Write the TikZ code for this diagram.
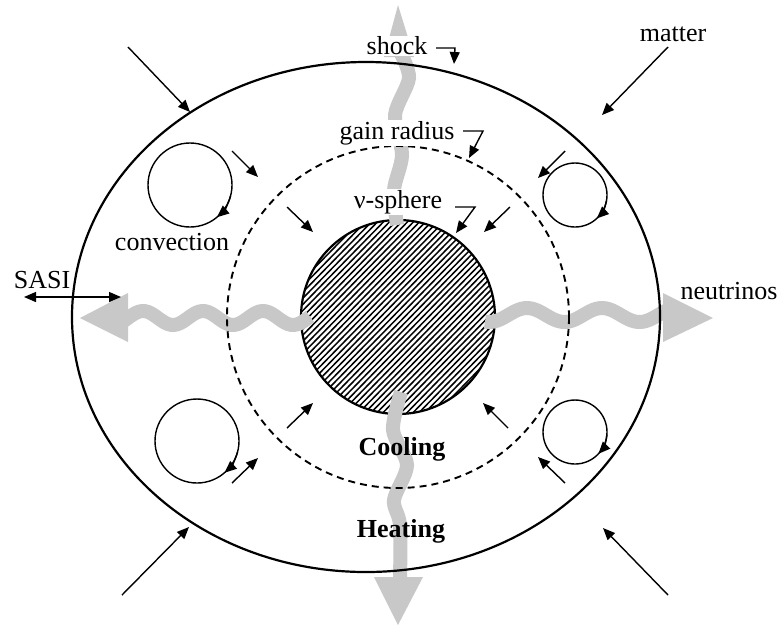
\documentclass[tikz,border=0pt]{standalone}
\usepackage{fontspec}
\setmainfont{Liberation Serif}
\usetikzlibrary{arrows.meta}
\definecolor{wavegray}{RGB}{200,200,200}
\begin{document}
\begin{tikzpicture}[x=1pt,y=-1pt,
  thinarrow/.style={line width=1.4pt,-{Triangle[length=12pt,width=10pt]}},
  wave/.style={draw=wavegray,line width=14pt},
  wavehead/.style={fill=wavegray,draw=none},
  lbl/.style={font=\fontsize{26}{30}\selectfont,inner sep=1pt},
  blbl/.style={font=\fontsize{26}{30}\selectfont\bfseries,inner sep=1pt},
  convcircle/.style={line width=1.4pt},
  convtip/.style={line width=1.4pt,-{Triangle[length=12pt,width=10pt]}}
]
\useasboundingbox (0,0) rectangle (783,625);

% hatched proto-neutron star
\begin{scope}
  \clip (398,317) circle[radius=97];
  \foreach \i in {-300,-294,...,300}
    \draw[line width=1.5pt] ({398+\i-110},430) -- ({398+\i+110},205);
\end{scope}
\draw[line width=2.2pt] (398,317) circle[radius=97];

% gray wavy neutrino arrows
\draw[wave] plot[smooth] coordinates {(397,225) (394,190) (402,155) (395,115) (409,78) (400,52)};
\fill[wavehead] (398,5) -- (384,57) -- (414,57) -- cycle;
\draw[wave] plot[smooth] coordinates {(401,392) (393,430) (407,465) (394,500) (400,525) (400,582)};
\fill[wavehead] (398,625) -- (374,577) -- (423,577) -- cycle;
\draw[wave] plot[domain=310:123,samples=60,smooth] (\x,{318-7*cos((\x-143)*6)});
\fill[wavehead] (80,318) -- (128,293) -- (128,342) -- cycle;
\draw[wave] plot[domain=485:668,samples=60,smooth] (\x,{315-7*cos((\x-527)*4.8)});
\fill[wavehead] (713,318) -- (663,293) -- (663,342) -- cycle;

% shock and gain radius
\draw[line width=2.2pt] (366,317) ellipse[x radius=294, y radius=255];
\draw[line width=1.9pt,dash pattern=on 7pt off 5pt] (398,317) circle[radius=171];

% convection cells
\draw[convcircle] (190,185) circle[radius=42];
\draw[convtip] (190,185) ++(15:42) arc[start angle=15,end angle=50,radius=42];
\draw[convcircle] (575,195) circle[radius=32];
\draw[convtip] (575,195) ++(10:32) arc[start angle=10,end angle=47,radius=32];
\draw[convcircle] (197,441) circle[radius=42];
\draw[convtip] (197,441) ++(15:42) arc[start angle=15,end angle=49,radius=42];
\draw[convcircle] (575,432) circle[radius=32];
\draw[convtip] (575,432) ++(5:32) arc[start angle=5,end angle=43,radius=32];

% labels
\node[lbl,fill=white] (shock) at (397,46) {shock};
\node[lbl,fill=white] (gain) at (397,133) {gain radius};
\node[lbl,fill=white] (nus) at (398,202) {ν-sphere};
\node[lbl] (matter) at (673,34) {matter};
\node[lbl] (sasi) at (42,280) {SASI};
\node[lbl] (neut) at (729,291) {neutrinos};
\node[lbl] (conv) at (172,242) {convection};
\node[blbl] (cool) at (402,449) {Cooling};
\node[blbl] (heat) at (401,531) {Heating};

% label pointers
\coordinate (shockA) at (436,48); \coordinate (shockB) at (455,48); \coordinate (shockT) at (454,64);
\draw[thinarrow] (shockA) -- (shockB) -- (shockT);
\coordinate (gainA) at (463,131); \coordinate (gainB) at (483,131); \coordinate (gainT) at (469,158);
\draw[thinarrow] (gainA) -- (gainB) -- (gainT);
\coordinate (nuA) at (455,207); \coordinate (nuB) at (475,207); \coordinate (nuT) at (456,233);
\draw[thinarrow] (nuA) -- (nuB) -- (nuT);

% matter infall arrows (outside)
\coordinate (m1a) at (128,47);  \coordinate (m1b) at (190,112);
\coordinate (m2a) at (668,47);  \coordinate (m2b) at (602,115);
\coordinate (m3a) at (122,595); \coordinate (m3b) at (189,527);
\coordinate (m4a) at (668,595); \coordinate (m4b) at (603,528);
\foreach \p in {1,2,3,4} \draw[thinarrow] (m\p a) -- (m\p b);

% infall arrows between shock and gain radius
\coordinate (g1a) at (232,151); \coordinate (g1b) at (258,177);
\coordinate (g2a) at (565,151); \coordinate (g2b) at (538,178);
\coordinate (g3a) at (232,483); \coordinate (g3b) at (258,458);
\coordinate (g4a) at (565,483); \coordinate (g4b) at (538,457);
\foreach \p in {1,2,3,4} \draw[thinarrow] (g\p a) -- (g\p b);

% infall arrows inside gain radius
\coordinate (i1a) at (287,207); \coordinate (i1b) at (313,232);
\coordinate (i2a) at (510,207); \coordinate (i2b) at (484,232);
\coordinate (i3a) at (287,428); \coordinate (i3b) at (313,403);
\coordinate (i4a) at (508,428); \coordinate (i4b) at (483,403);
\foreach \p in {1,2,3,4} \draw[thinarrow] (i\p a) -- (i\p b);

% SASI double arrow
\coordinate (sasiL) at (24,297); \coordinate (sasiR) at (121,297);
\draw[line width=1.4pt,{Triangle[length=12pt,width=10pt]}-{Triangle[length=12pt,width=10pt]}] (sasiL) -- (sasiR);
\end{tikzpicture}
\end{document}
